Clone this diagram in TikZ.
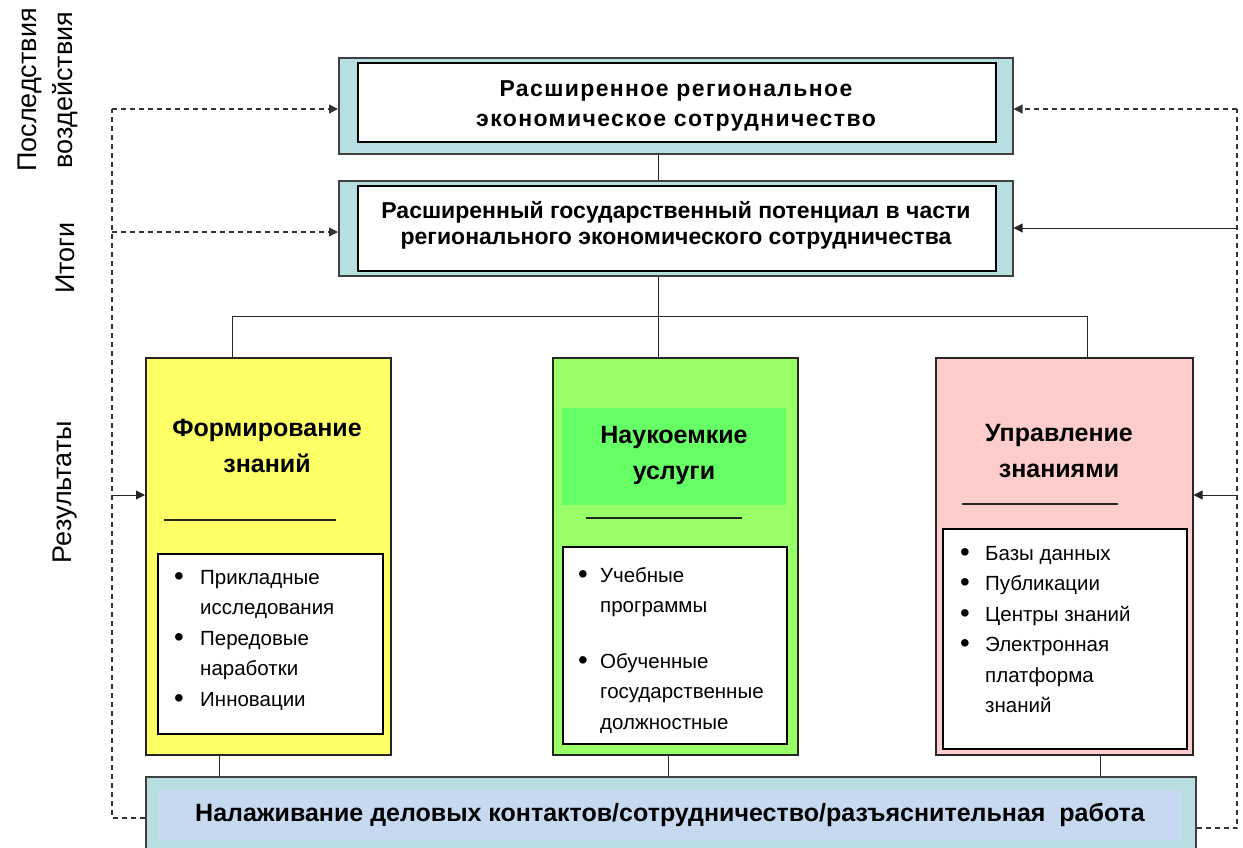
\documentclass[tikz,border=0pt]{standalone}
\usepackage{fontspec}
\setmainfont{Liberation Sans}
\usetikzlibrary{arrows.meta}

\definecolor{tealbg}{HTML}{B7DEE0}
\definecolor{barblue}{HTML}{C6D9F0}
\definecolor{yellowbg}{HTML}{FFFF66}
\definecolor{greenbg}{HTML}{99FF66}
\definecolor{greenband}{HTML}{66FF66}
\definecolor{pinkbg}{HTML}{FFCCCC}
\newcommand{\itm}[1]{\makebox[#1][l]{\raisebox{-1pt}{\scalebox{1.35}{•}}}}

\begin{document}
\begin{tikzpicture}[x=1pt,y=-1pt,
  outer/.style={draw=black!75,line width=1.5pt,fill=tealbg,inner sep=0pt,anchor=north west},
  inner/.style={draw=black,line width=2pt,fill=white,inner sep=0pt,anchor=north west},
  column/.style={draw=black!85,line width=1.5pt,inner sep=0pt,anchor=north west},
  toptext/.style={align=center,font=\bfseries\fontsize{23}{30}\selectfont},
  head/.style={align=center,font=\bfseries\fontsize{25}{36}\selectfont},
  items/.style={align=left,anchor=north west,inner sep=0pt,font=\fontsize{20.5}{30.5}\selectfont},
  side/.style={rotate=90,font=\fontsize{27}{30}\selectfont},
  link/.style={line width=1pt,black!85},
  tip/.style={-{Triangle[length=9pt,width=9pt]}},
  dashlink/.style={line width=1.2pt,dashed,dash pattern=on 5pt off 4pt,black!80}
]
\useasboundingbox (0,0) rectangle (1243,847);

% side labels
\node[side] (lblEffect) at (30,90) {Последствия};
\node[side] (lblEffect2) at (65,90) {воздействия};
\node[side] (lblTotal) at (65,258) {Итоги};
\node[side] (lblResult) at (65,492) {Результаты};

% top boxes
\node[outer,minimum width=674,minimum height=96] (coopOut) at (338,57) {};
\node[inner,minimum width=638,minimum height=79] (coopIn) at (357,62) {};
\node[toptext,font=\bfseries\fontsize{23}{30}\selectfont\addfontfeature{LetterSpace=6}] (coopTxt) at (676,106) {Расширенное региональное\\экономическое сотрудничество};

\node[outer,minimum width=674,minimum height=95] (potOut) at (338,180) {};
\node[inner,minimum width=638,minimum height=85] (potIn) at (357,185) {};
\node[toptext,font=\bfseries\fontsize{23}{26}\selectfont] (potTxt) at (676,225) {Расширенный государственный потенциал в части\\регионального экономического сотрудничества};

% columns
\node[column,fill=yellowbg,minimum width=245,minimum height=397] (colA) at (145,357) {};
\node[column,fill=greenbg,minimum width=245,minimum height=397] (colB) at (552,357) {};
\node[column,fill=pinkbg,minimum width=257,minimum height=397] (colC) at (935,357) {};

\fill[greenband] (562,408) rectangle (786,505);

\node[head] (headA) at (267,446) {Формирование\\знаний};
\node[head] (headB) at (674,455) {Наукоемкие\\услуги};
\node[head] (headC) at (1059,451) {Управление\\знаниями};

\draw[link,line width=1.5pt] (164,520) -- (336,520);
\draw[link,line width=1.5pt] (586,518) -- (742,518);
\draw[link,line width=1.5pt] (962,504) -- (1118,504);

\node[inner,line width=1.5pt,minimum width=225,minimum height=180] (listA) at (157,553) {};
\node[inner,line width=1.5pt,minimum width=224,minimum height=197] (listB) at (562,546) {};
\node[inner,line width=1.5pt,minimum width=244,minimum height=220] (listC) at (942,528) {};

\node[items] (itemsA) at (174,570) {\itm{26pt}Прикладные\\\hspace{26pt}исследования\\
  \itm{26pt}Передовые\\\hspace{26pt}наработки\\\itm{26pt}Инновации};
\node[items] (itemsB) at (578,567) {\itm{22pt}Учебные\\\hspace{22pt}программы\\[25pt]
  \itm{22pt}Обученные\\\hspace{22pt}государственные\\\hspace{22pt}должностные};
\node[items] (itemsC) at (960,546) {\itm{25pt}Базы данных\\\itm{25pt}Публикации\\
  \itm{25pt}Центры знаний\\\itm{25pt}Электронная\\\hspace{25pt}платформа\\\hspace{25pt}знаний};

% bottom bar
\node[outer,minimum width=1050,minimum height=100] (barOut) at (145,776) {};
\fill[barblue] (158,790) rectangle (1182,840);
\node[toptext,font=\bfseries\fontsize{25}{30}\selectfont] (barTxt) at (670,815) {Налаживание деловых контактов/сотрудничество/разъяснительная\ \ работа};

% tree links
\draw[link] ([xshift=-17pt]coopOut.south) -- ([xshift=-17pt]coopOut.south |- potOut.north);
\coordinate (fork) at ([xshift=-17pt,yshift=-40pt]potOut.south);
\draw[link] ([xshift=-17pt]potOut.south) -- (fork);
\draw[link] ([xshift=-35.5pt]colA.north) |- (fork) -| ([xshift=23.5pt]colC.north);
\draw[link] (fork) -- ([xshift=-16.5pt]colB.north);
\draw[link] ([xshift=-48.5pt]colA.south) -- ([xshift=-48.5pt]colA.south |- barOut.north);
\draw[link] ([xshift=-6.5pt]colB.south) -- ([xshift=-6.5pt]colB.south |- barOut.north);
\draw[link] ([xshift=36.5pt]colC.south) -- ([xshift=36.5pt]colC.south |- barOut.north);

% left feedback
\coordinate (lTop) at (112,109);
\coordinate (lMid) at (112,232);
\coordinate (lRes) at (112,495);
\coordinate (lBot) at (112,818);
\draw[dashlink] (barOut.west |- lBot) -- (lBot) -- (lTop);
\draw[dashlink,tip] (lTop) -- (coopOut.west |- lTop);
\draw[dashlink,tip] (lMid) -- (potOut.west |- lMid);
\draw[link,tip] (lRes) -- (colA.west |- lRes);

% right feedback
\coordinate (rTop) at (1237,109);
\coordinate (rMid) at (1237,228);
\coordinate (rRes) at (1237,495);
\coordinate (rBot) at (1237,828);
\draw[dashlink] (barOut.east |- rBot) -- (rBot) -- (rTop);
\draw[dashlink,tip] (rTop) -- (coopOut.east |- rTop);
\draw[link,tip] (rMid) -- (potOut.east |- rMid);
\draw[link,tip] (rRes) -- (colC.east |- rRes);
\end{tikzpicture}
\end{document}
